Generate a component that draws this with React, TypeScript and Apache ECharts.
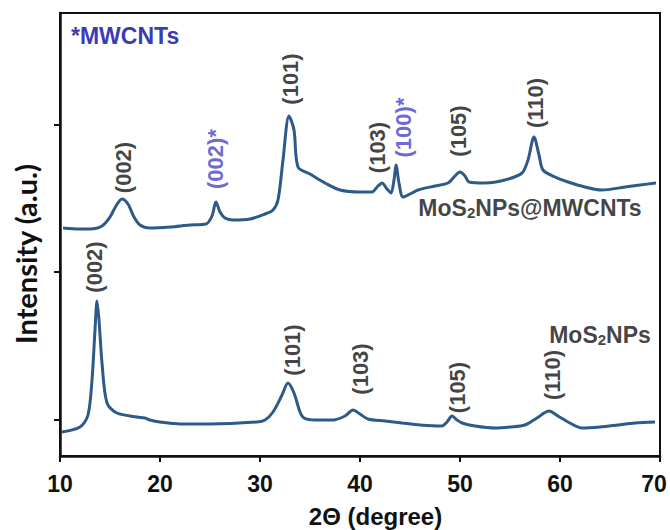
import React, { useEffect, useRef } from "react";
import * as echarts from "echarts";

const xTickStep = 10;
const yTickValues = [36, 184, 331];

const compositeTheta = [
  10.3, 12, 13, 14.2, 15, 15.6, 16.2, 16.8, 17.4, 18, 19, 21, 23, 24.6, 25.2, 25.6, 26.0, 26.5, 27.3, 29,
  30.5, 31.3, 31.8, 32.3, 32.9, 33.4, 33.8, 35, 36.5, 38, 40, 41.2, 41.8, 42.2, 42.7, 43.1, 43.4, 43.6, 43.9,
  44.3, 45, 45.8, 47.5, 48.8, 49.5, 50, 50.5, 50.9, 52.5, 54.5, 56.2, 56.8, 57.4, 57.9, 58.3, 59.5, 60.8,
  62.5, 64.2, 66.5, 68, 69.6,
];
const compositeIntensity = [
  228, 227, 227, 230, 239, 250, 257, 252, 239, 231, 228, 229, 231, 232, 240, 254, 244, 238, 236, 237,
  242, 246, 256, 296, 340, 326, 289, 282, 273, 266, 264, 264, 270, 273, 267, 263, 276, 291, 273,
  259, 262, 266, 270, 273, 280, 284, 280, 274, 273, 276, 283, 296, 319, 301, 286, 279, 274,
  269, 266, 269, 271, 273,
];

const pristineTheta = [
  10.2, 12, 12.8, 13.2, 13.5, 13.7, 13.9, 14.2, 14.7, 15.7, 17.7, 18.5, 19, 20, 22, 25, 29.7, 30.5, 31.3,
  32.2, 32.8, 33.4, 34.0, 34.4, 35.5, 37.3, 38.5, 39.3, 40, 40.8, 42.5, 44.2, 46, 48.2, 48.7, 49.2, 49.7,
  50.2, 51.5, 53.5, 55, 56.5, 57.7, 58.9, 59.8, 60.8, 62.2, 64, 65.8, 67.5, 69.5,
];
const pristineIntensity = [
  24, 29, 41, 76, 126, 155, 136, 93, 53, 43, 39, 38, 36, 34, 32, 32, 34, 36, 44,
  61, 73, 63, 44, 38, 36, 36, 40, 46, 42, 37, 35, 33, 31, 30, 34, 40, 36,
  33, 30, 28, 29, 31, 38, 45, 40, 34, 28, 29, 31, 33, 34,
];

const compositePeakNames = ["(002)", "(002)*", "(101)", "(103)", "(100)*", "(105)", "(110)"];
const compositePeakTheta = [16.3, 25.5, 33.0, 41.7, 44.3, 49.8, 57.5];
const compositePeakLabelY = [288.5, 297, 377, 308.5, 328.5, 325, 353];
const compositePeakFromMWCNT = [false, true, false, false, true, false, false];

const pristinePeakNames = ["(002)", "(101)", "(103)", "(105)", "(110)"];
const pristinePeakTheta = [13.4, 33.2, 40.0, 49.7, 59.2];
const pristinePeakLabelY = [189, 106, 87, 68.5, 81];

const sampleNames = ["MoS2NPs@MWCNTs", "MoS2NPs"];
const sampleNameTheta = [57.0, 64.0];
const sampleNameY = [248, 121];

const LINE = "#2d5a88";
const INK = "#111111";
const BLUE = "#4642c4";
const FONT = "Liberation Sans, Arial, sans-serif";

export default function App() {
  const ref = useRef<HTMLDivElement>(null);
  useEffect(() => {
    if (!ref.current) return;
    const chart = echarts.init(ref.current, undefined, { renderer: "svg" });

    const peakData = [
      ...compositePeakNames.map((n, i) => ({
        name: n,
        value: [compositePeakTheta[i], compositePeakLabelY[i]],
        label: { color: compositePeakFromMWCNT[i] ? BLUE : INK },
      })),
      ...pristinePeakNames.map((n, i) => ({
        name: n,
        value: [pristinePeakTheta[i], pristinePeakLabelY[i]],
      })),
    ];

    const sampleData = sampleNames.map((n, i) => ({
      name: n,
      value: [sampleNameTheta[i], sampleNameY[i]],
    }));

    const richName = (n: string) => {
      const idx = n.indexOf("2");
      return `{t|${n.slice(0, idx)}}{s|2}{t|${n.slice(idx + 1)}}`;
    };

    chart.setOption({
      animation: false,
      backgroundColor: "#ffffff",
      title: {
        text: "*MWCNTs",
        left: 66,
        top: 19,
        textStyle: { color: "#3b3bb5", fontSize: 23, fontWeight: "bold", fontFamily: FONT },
      },
      graphic: [
        {
          type: "text",
          x: 25,
          y: 254,
          rotation: Math.PI / 2,
          style: {
            text: "Intensity (a.u.)",
            fontSize: 29,
            fontWeight: "bold",
            fontFamily: "Lato, Open Sans, sans-serif",
            fill: INK,
            align: "center",
            verticalAlign: "middle",
          },
        },
      ],
      grid: {
        left: 60,
        right: 10,
        top: 13,
        bottom: 74,
        show: true,
        borderColor: "#111",
        borderWidth: 2,
        containLabel: false,
        outerBoundsMode: "none",
      },
      xAxis: {
        type: "value",
        min: 10,
        max: 70,
        interval: xTickStep,
        name: "2\u0398 (degree)",
        nameLocation: "middle",
        nameGap: 48,
        nameTextStyle: {
          fontSize: 24,
          fontWeight: "bold",
          color: INK,
          fontFamily: FONT,
          padding: [0, 0, 0, 31],
        },
        axisLine: { show: true, lineStyle: { color: "#111", width: 2.5 } },
        axisTick: { show: true, inside: false, length: 6, lineStyle: { color: "#111", width: 2 } },
        axisLabel: {
          fontSize: 23,
          fontWeight: "bold",
          color: INK,
          fontFamily: FONT,
          margin: 16,
          formatter: (v: number) => (v === 70 ? "{r|70}" : String(v)),
          rich: {
            r: { fontSize: 23, fontWeight: "bold", color: INK, fontFamily: FONT, padding: [0, 12, 0, 0] },
          },
        },
        splitLine: { show: false },
      },
      yAxis: {
        type: "value",
        min: 0,
        max: 443,
        axisLine: { show: true, lineStyle: { color: "#111", width: 2.5 } },
        axisTick: {
          show: true,
          inside: false,
          length: 6,
          customValues: yTickValues,
          lineStyle: { color: "#111", width: 2 },
        },
        axisLabel: { show: false },
        splitLine: { show: false },
      },
      series: [
        {
          name: "MoS2NPs@MWCNTs",
          type: "line",
          data: compositeTheta.map((x, i) => [x, compositeIntensity[i]]),
          showSymbol: false,
          symbol: "none",
          smooth: 0.3,
          lineStyle: { color: LINE, width: 3 },
          z: 3,
        },
        {
          name: "MoS2NPs",
          type: "line",
          data: pristineTheta.map((x, i) => [x, pristineIntensity[i]]),
          showSymbol: false,
          symbol: "none",
          smooth: 0.3,
          lineStyle: { color: LINE, width: 3 },
          z: 3,
        },
        {
          name: "peaks",
          type: "scatter",
          symbolSize: 0,
          data: peakData,
          silent: true,
          label: {
            show: true,
            position: "inside",
            rotate: 90,
            formatter: (p: any) => p.name,
            fontSize: 22,
            fontWeight: "bold",
            color: INK,
            fontFamily: FONT,
            align: "center",
            verticalAlign: "middle",
          },
          z: 4,
        },
        {
          name: "samples",
          type: "scatter",
          symbolSize: 0,
          data: sampleData,
          silent: true,
          label: {
            show: true,
            position: "inside",
            formatter: (p: any) => richName(p.name),
            align: "center",
            verticalAlign: "middle",
            rich: {
              t: {
                fontSize: 23,
                fontWeight: "bold",
                color: INK,
                fontFamily: FONT,
                lineHeight: 23,
                verticalAlign: "bottom",
              },
              s: {
                fontSize: 15,
                fontWeight: "bold",
                color: INK,
                fontFamily: FONT,
                lineHeight: 3,
                verticalAlign: "bottom",
              },
            },
          },
          z: 4,
        },
      ],
    });
    return () => chart.dispose();
  }, []);

  return (
    <div
      ref={ref}
      style={{ position: "absolute", left: 0, top: 0, width: 670, height: 530, background: "#fff" }}
    />
  );
}
